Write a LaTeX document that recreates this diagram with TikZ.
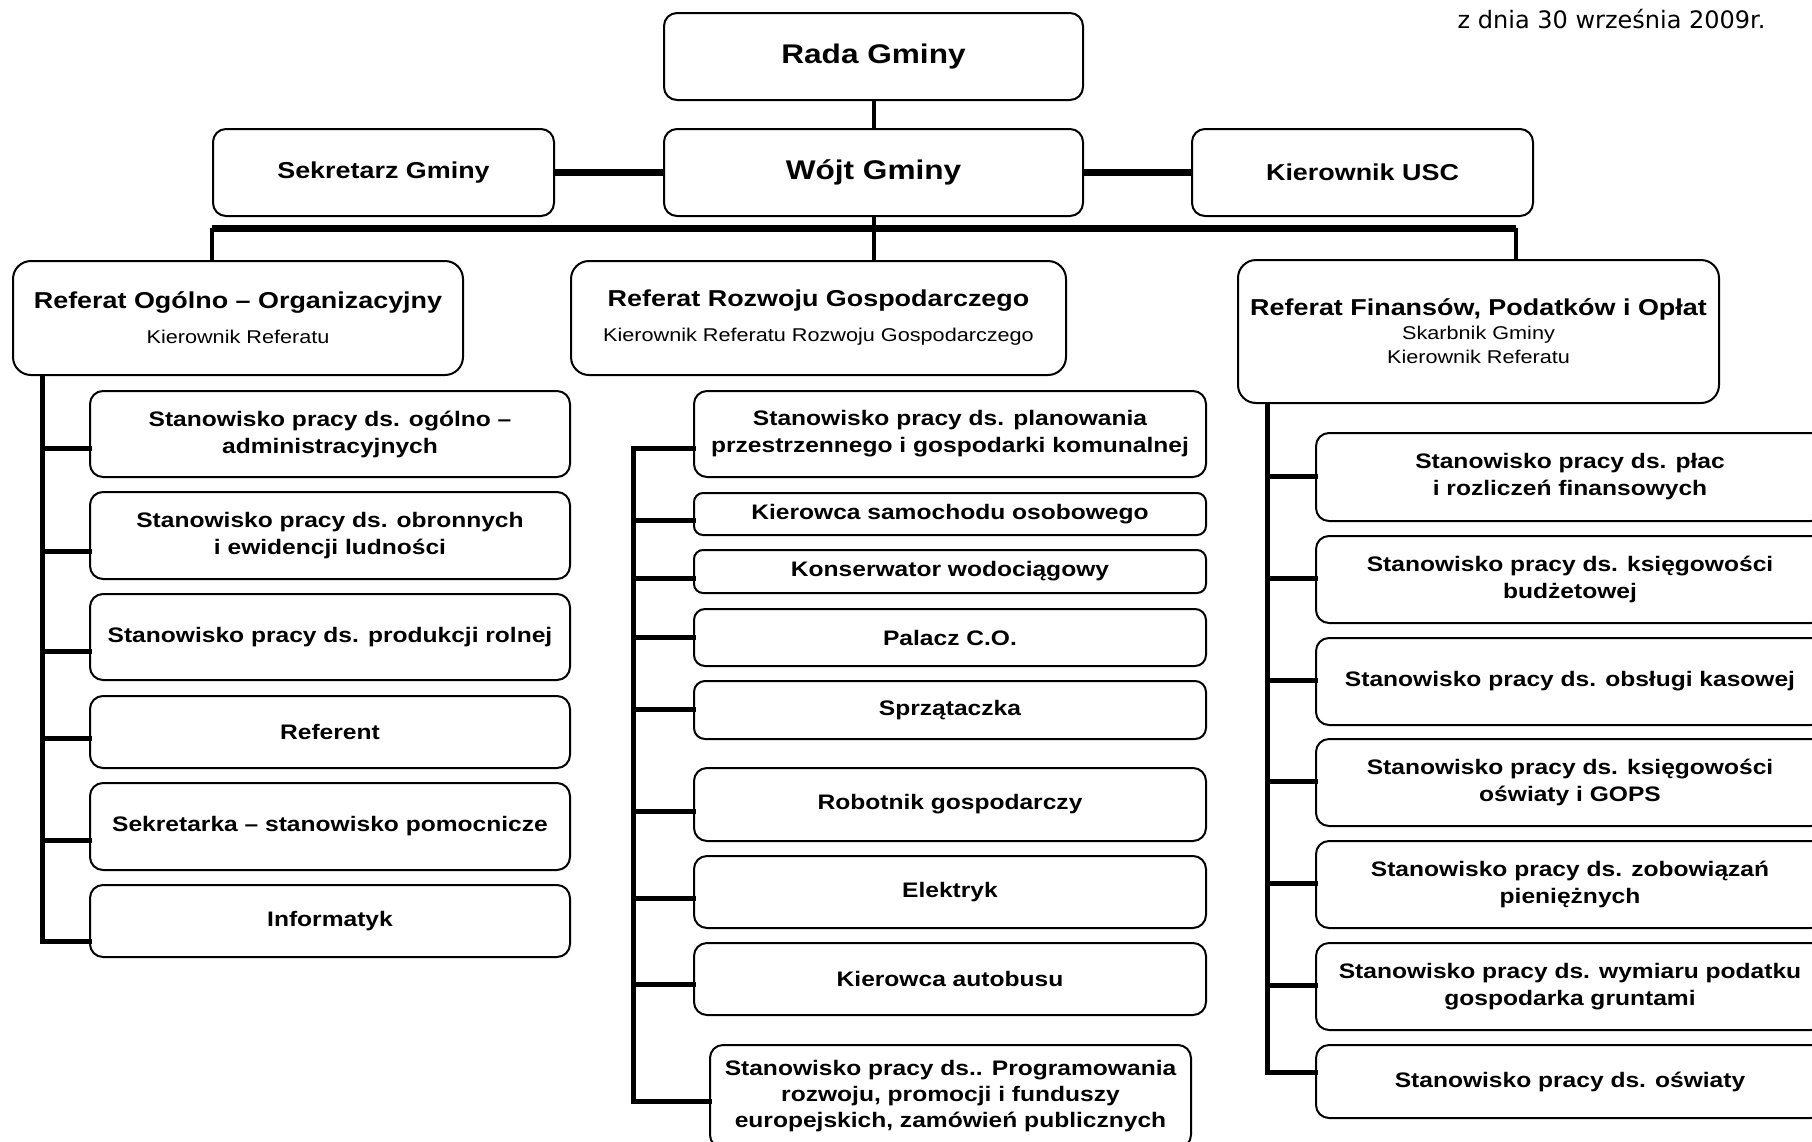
\documentclass[tikz,border=0pt]{standalone}
\usepackage{fontspec}
\setmainfont{Liberation Sans}[FakeStretch=1.17]
\newfontfamily\datefont{DejaVu Sans}
\usetikzlibrary{positioning}

\begin{document}
\begin{tikzpicture}[x=1pt,y=-1pt,
        box/.style={draw, line width=2pt, rounded corners=13pt, anchor=north west, align=center, inner sep=0pt,
            font=\bfseries\fontsize{21}{27}\selectfont},
        headbox/.style={box, font=\bfseries\fontsize{27}{32}\selectfont},
        sidebox/.style={box, font=\bfseries\fontsize{23}{28}\selectfont},
        refbox/.style={box, rounded corners=18pt, font=\bfseries\fontsize{23}{26}\selectfont},
        thin/.style={line width=4pt},
        thick/.style={line width=7pt},
        spine/.style={line width=5pt, line cap=rect}]
                \useasboundingbox (0,0) rectangle (1812,1141);

                \node[anchor=base east, font=\datefont\fontsize{24}{28}\selectfont] (date) at (1769,28) {z dnia 30 września 2009r.};

                % top of the chart
                \node[headbox, minimum width=419pt, minimum height=87pt] (rada) at (663,12) {Rada Gminy};
                \node[headbox, minimum width=419pt, minimum height=87pt] (wojt) at (663,128) {Wójt Gminy};
                \node[sidebox, minimum width=341pt, minimum height=87pt] (sekr) at (212,128) {Sekretarz Gminy};
                \node[sidebox, minimum width=341pt, minimum height=87pt] (usc) at (1191,128) {Kierownik USC};

                \node[refbox, minimum width=450pt, minimum height=114pt] (og) at (12,260)
                    {Referat Ogólno – Organizacyjny\\[9pt]{\mdseries\fontsize{18.5}{22}\selectfont Kierownik Referatu}};
                \node[refbox, minimum width=495pt, minimum height=114pt] (roz) at (570,260)
                    {Referat Rozwoju Gospodarczego\\[9pt]{\mdseries\fontsize{18.5}{22}\selectfont Kierownik Referatu Rozwoju Gospodarczego}};
                \node[refbox, minimum width=481pt, minimum height=143pt] (fin) at (1237,259)
                    {Referat Finansów, Podatków i Opłat\\[-2pt]{\mdseries\fontsize{18.5}{22}\selectfont Skarbnik Gminy}\\[-2pt]{\mdseries\fontsize{18.5}{22}\selectfont Kierownik Referatu}};

                \coordinate (busL) at (212,228);
                \coordinate (busR) at (1516,228);

                \draw[thin] (rada) -- (wojt);
                \draw[thick] (sekr) -- (wojt);
                \draw[thick] (wojt) -- (usc);
                \draw[thick] (busL) -- (busR);
                \draw[thin] (wojt.south) -- (wojt.south |- busL);
                \draw[thin] (busL) -- (busL |- og.north);
                \draw[thin] (wojt.south |- busL) -- (wojt.south |- roz.north);
                \draw[thin] (busR) -- (busR |- fin.north);

                % left column
                \node[box, minimum width=480pt, minimum height=86pt] (l1) at (89,390) {Stanowisko pracy ds. ogólno –\\administracyjnych};
                \node[box, minimum width=480pt, minimum height=87pt] (l2) at (89,491) {Stanowisko pracy ds. obronnych\\i ewidencji ludności};
                \node[box, minimum width=480pt, minimum height=86pt] (l3) at (89,593) {Stanowisko pracy ds. produkcji rolnej};
                \node[box, minimum width=480pt, minimum height=72pt] (l4) at (89,695) {Referent};
                \node[box, minimum width=480pt, minimum height=87pt] (l5) at (89,782) {Sekretarka – stanowisko pomocnicze};
                \node[box, minimum width=480pt, minimum height=72pt] (l6) at (89,884) {Informatyk};

                \draw[spine] (42,0 |- og.south) -- (42,941);
                \foreach \n/\y in {l1/448,l2/551,l3/651,l4/738,l5/840,l6/941}
                    \draw[spine] (42,\y) -- (\n.west |- 0,\y);

                % middle column
                \node[box, minimum width=512pt, minimum height=86pt] (m1) at (693,390) {Stanowisko pracy ds. planowania\\przestrzennego i gospodarki komunalnej};
                \node[box, rounded corners=9pt, minimum width=512pt, minimum height=42pt] (m2) at (693,492) {Kierowca samochodu osobowego};
                \node[box, rounded corners=9pt, minimum width=512pt, minimum height=43pt] (m3) at (693,549) {Konserwator wodociągowy};
                \node[box, rounded corners=11pt, minimum width=512pt, minimum height=57pt] (m4) at (693,608) {Palacz C.O.};
                \node[box, rounded corners=11pt, minimum width=512pt, minimum height=58pt] (m5) at (693,680) {Sprzątaczka};
                \node[box, minimum width=512pt, minimum height=73pt] (m6) at (693,767) {Robotnik gospodarczy};
                \node[box, minimum width=512pt, minimum height=72pt] (m7) at (693,855) {Elektryk};
                \node[box, minimum width=512pt, minimum height=72pt] (m8) at (693,942) {Kierowca autobusu};
                \node[box, font=\bfseries\fontsize{21}{26}\selectfont, minimum width=481pt, minimum height=103pt] (m9) at (709,1044)
                    {Stanowisko pracy ds.. Programowania\\rozwoju, promocji i funduszy\\europejskich, zamówień publicznych};

                \draw[spine] (633,448) -- (633,1101);
                \foreach \n/\y in {m1/448,m2/520,m3/578,m4/637,m5/709,m6/811,m7/898,m8/984,m9/1101}
                    \draw[spine] (633,\y) -- (\n.west |- 0,\y);

                % right column
                \node[box, minimum width=508pt, minimum height=88pt] (r1) at (1315,432) {Stanowisko pracy ds. płac\\ i rozliczeń finansowych};
                \node[box, minimum width=508pt, minimum height=87pt] (r2) at (1315,535) {Stanowisko pracy ds. księgowości\\budżetowej};
                \node[box, minimum width=508pt, minimum height=87pt] (r3) at (1315,637) {Stanowisko pracy ds. obsługi kasowej};
                \node[box, minimum width=508pt, minimum height=87pt] (r4) at (1315,738) {Stanowisko pracy ds. księgowości\\oświaty i GOPS};
                \node[box, minimum width=508pt, minimum height=87pt] (r5) at (1315,840) {Stanowisko pracy ds. zobowiązań\\pieniężnych};
                \node[box, minimum width=508pt, minimum height=87pt] (r6) at (1315,942) {Stanowisko pracy ds. wymiaru podatku\\gospodarka gruntami};
                \node[box, minimum width=508pt, minimum height=73pt] (r7) at (1315,1044) {Stanowisko pracy ds. oświaty};

                \draw[spine] (1267,0 |- fin.south) -- (1267,1072);
                \foreach \n/\y in {r1/476,r2/578,r3/680,r4/781,r5/883,r6/985,r7/1072}
                    \draw[spine] (1267,\y) -- (\n.west |- 0,\y);
\end{tikzpicture}
\end{document}
